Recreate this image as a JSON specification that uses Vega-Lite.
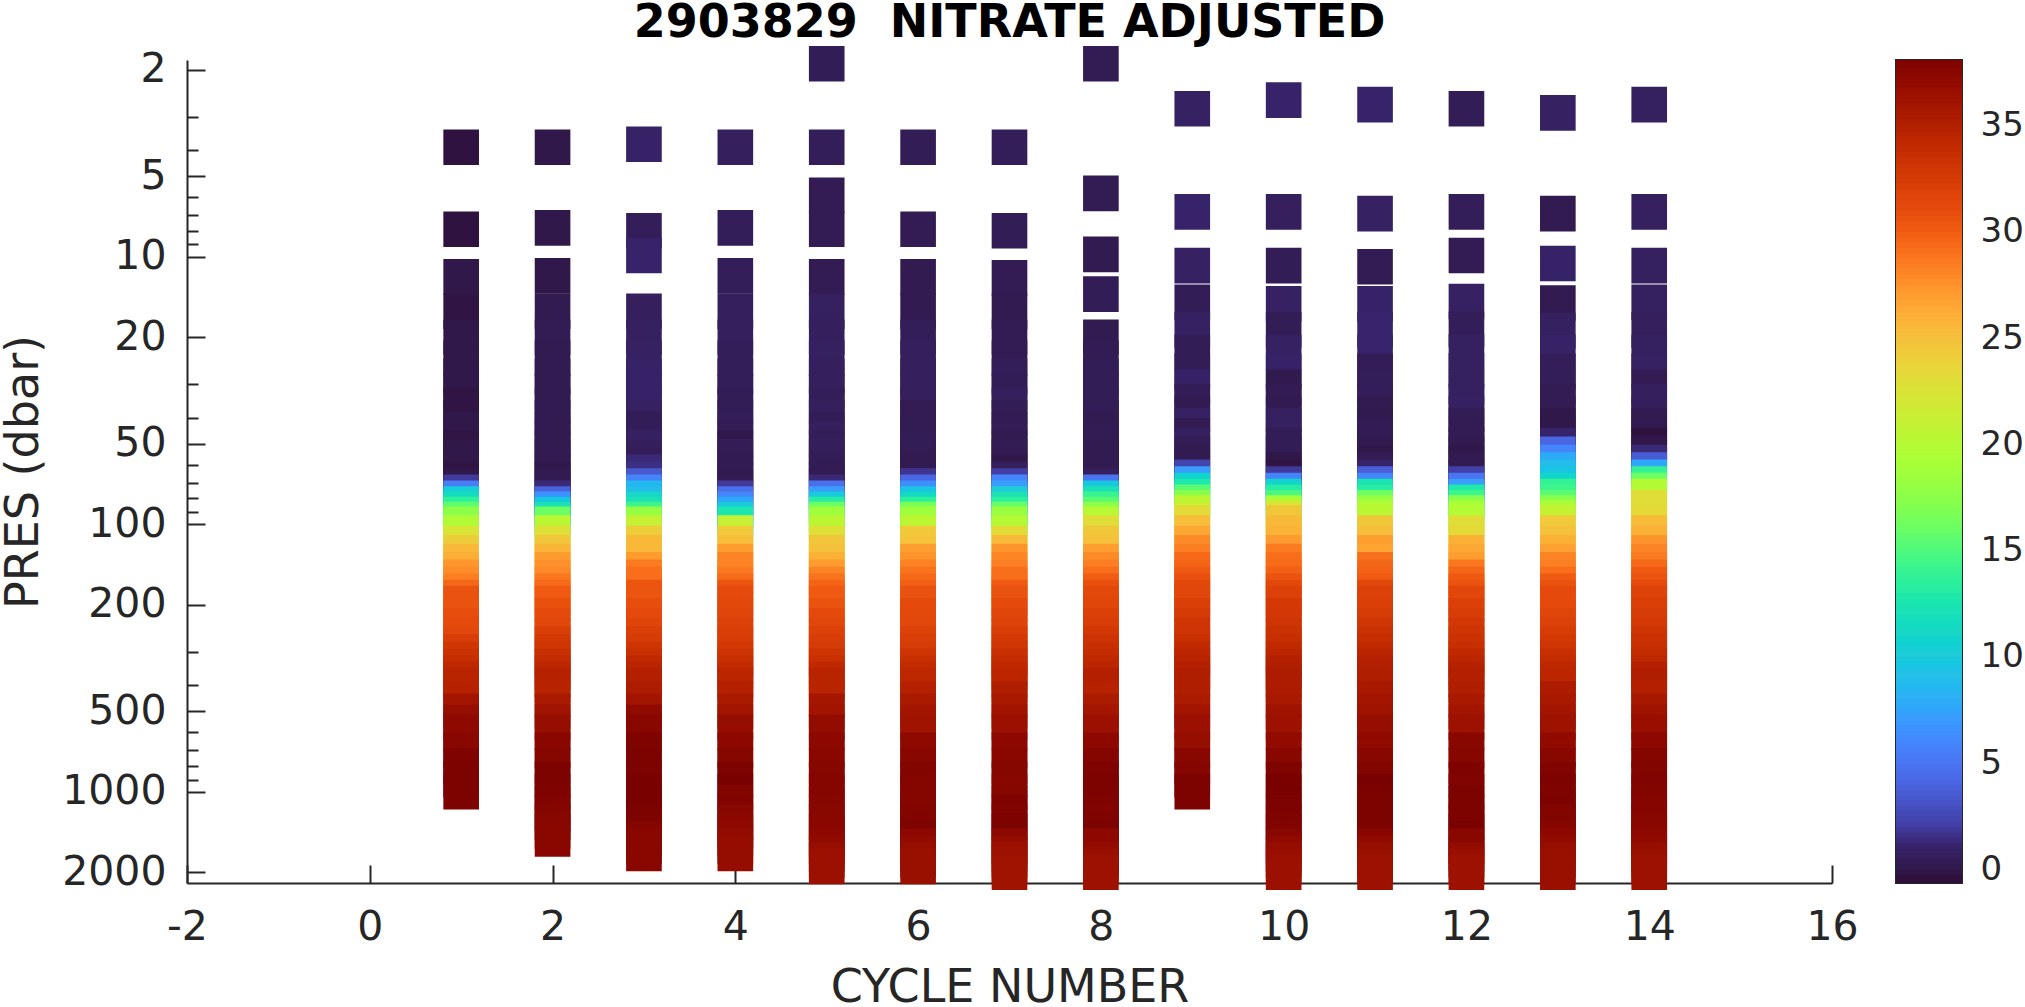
{
"$schema":"https://vega.github.io/schema/vega-lite/v6.json",
"description":"Nitrate adjusted section by cycle number and pressure",
"autosize":{"type":"pad"},
"padding":{"left":0,"top":0,"right":10,"bottom":2},
"background":"white",
"bounds":"flush",
"spacing":64,
"config":{"font":"DejaVu Sans","axis":{"grid":false,"domainColor":"#262626","tickColor":"#262626","labelColor":"#262626","titleColor":"#262626","labelFont":"DejaVu Sans","titleFont":"DejaVu Sans","labelFontSize":41,"titleFontSize":46,"titleFontWeight":"normal","domainWidth":2,"tickWidth":2,"labelFlush":false,"labelOverlap":false}},
"hconcat":[
{"width":1645,"height":823,
"view":{"stroke":null},
"title":{"text":"2903829\u00a0\u00a0NITRATE ADJUSTED","font":"DejaVu Sans","fontSize":46,"fontWeight":"bold","color":"black","anchor":"middle","offset":-1.5},
"data":{"values":[
{"cycle":1,"pres":3.9,"nitrate":-0.4},{"cycle":1,"pres":7.9,"nitrate":-0.4},{"cycle":1,"pres":11.9,"nitrate":-0.1},{"cycle":1,"pres":16,"nitrate":-0.3},{"cycle":1,"pres":20,"nitrate":-0.1},{"cycle":1,"pres":24,"nitrate":-0.1},{"cycle":1,"pres":28,"nitrate":-0.1},{"cycle":1,"pres":32,"nitrate":-0.1},{"cycle":1,"pres":36,"nitrate":-0.3},{"cycle":1,"pres":40,"nitrate":-0.3},{"cycle":1,"pres":44,"nitrate":-0.1},{"cycle":1,"pres":48,"nitrate":-0.1},{"cycle":1,"pres":52,"nitrate":-0.3},{"cycle":1,"pres":56,"nitrate":-0.1},{"cycle":1,"pres":60,"nitrate":-0.1},{"cycle":1,"pres":64,"nitrate":-0.1},{"cycle":1,"pres":68,"nitrate":-0.3},{"cycle":1,"pres":72,"nitrate":-0.1},{"cycle":1,"pres":76,"nitrate":1.8},{"cycle":1,"pres":80,"nitrate":5.3},{"cycle":1,"pres":84,"nitrate":10.2},{"cycle":1,"pres":88,"nitrate":11.5},{"cycle":1,"pres":92,"nitrate":13.6},{"cycle":1,"pres":96,"nitrate":15.5},{"cycle":1,"pres":100,"nitrate":17.5},{"cycle":1,"pres":108,"nitrate":19.5},{"cycle":1,"pres":118,"nitrate":22.3},{"cycle":1,"pres":128,"nitrate":24},{"cycle":1,"pres":138,"nitrate":25.3},{"cycle":1,"pres":148,"nitrate":26},{"cycle":1,"pres":158,"nitrate":27.2},{"cycle":1,"pres":168,"nitrate":27.6},{"cycle":1,"pres":178,"nitrate":28.3},{"cycle":1,"pres":188,"nitrate":29.3},{"cycle":1,"pres":198,"nitrate":30.5},{"cycle":1,"pres":220,"nitrate":30.5},{"cycle":1,"pres":240,"nitrate":30.8},{"cycle":1,"pres":260,"nitrate":31},{"cycle":1,"pres":280,"nitrate":31.3},{"cycle":1,"pres":300,"nitrate":32.1},{"cycle":1,"pres":320,"nitrate":32.8},{"cycle":1,"pres":340,"nitrate":33.2},{"cycle":1,"pres":360,"nitrate":33.6},{"cycle":1,"pres":380,"nitrate":34.1},{"cycle":1,"pres":400,"nitrate":34.5},{"cycle":1,"pres":450,"nitrate":34.6},{"cycle":1,"pres":500,"nitrate":35.8},{"cycle":1,"pres":550,"nitrate":36.6},{"cycle":1,"pres":600,"nitrate":37.1},{"cycle":1,"pres":700,"nitrate":37.4},{"cycle":1,"pres":800,"nitrate":37.9},{"cycle":1,"pres":900,"nitrate":38},{"cycle":1,"pres":1000,"nitrate":38},
{"cycle":2,"pres":3.9,"nitrate":-0.1},{"cycle":2,"pres":7.8,"nitrate":-0.1},{"cycle":2,"pres":11.8,"nitrate":-0.1},{"cycle":2,"pres":16,"nitrate":0.1},{"cycle":2,"pres":20,"nitrate":0.2},{"cycle":2,"pres":24,"nitrate":0.1},{"cycle":2,"pres":28,"nitrate":0.1},{"cycle":2,"pres":32,"nitrate":0.1},{"cycle":2,"pres":36,"nitrate":0.1},{"cycle":2,"pres":40,"nitrate":0.1},{"cycle":2,"pres":44,"nitrate":0.1},{"cycle":2,"pres":48,"nitrate":0.1},{"cycle":2,"pres":52,"nitrate":0.1},{"cycle":2,"pres":56,"nitrate":0.1},{"cycle":2,"pres":60,"nitrate":0.1},{"cycle":2,"pres":64,"nitrate":0.1},{"cycle":2,"pres":68,"nitrate":-0.1},{"cycle":2,"pres":72,"nitrate":0.1},{"cycle":2,"pres":76,"nitrate":0.1},{"cycle":2,"pres":80,"nitrate":1.2},{"cycle":2,"pres":84,"nitrate":3.8},{"cycle":2,"pres":88,"nitrate":6.5},{"cycle":2,"pres":92,"nitrate":9.5},{"cycle":2,"pres":96,"nitrate":12},{"cycle":2,"pres":100,"nitrate":16},{"cycle":2,"pres":108,"nitrate":20.3},{"cycle":2,"pres":118,"nitrate":22.8},{"cycle":2,"pres":128,"nitrate":24.5},{"cycle":2,"pres":138,"nitrate":25.6},{"cycle":2,"pres":148,"nitrate":26.9},{"cycle":2,"pres":158,"nitrate":27.4},{"cycle":2,"pres":168,"nitrate":27.8},{"cycle":2,"pres":178,"nitrate":28.6},{"cycle":2,"pres":188,"nitrate":29.2},{"cycle":2,"pres":198,"nitrate":30},{"cycle":2,"pres":220,"nitrate":30.6},{"cycle":2,"pres":240,"nitrate":31},{"cycle":2,"pres":260,"nitrate":31.3},{"cycle":2,"pres":280,"nitrate":32},{"cycle":2,"pres":300,"nitrate":32.6},{"cycle":2,"pres":320,"nitrate":33},{"cycle":2,"pres":340,"nitrate":33.4},{"cycle":2,"pres":360,"nitrate":33.8},{"cycle":2,"pres":380,"nitrate":34.2},{"cycle":2,"pres":400,"nitrate":34.6},{"cycle":2,"pres":450,"nitrate":34.5},{"cycle":2,"pres":500,"nitrate":35.4},{"cycle":2,"pres":550,"nitrate":36},{"cycle":2,"pres":600,"nitrate":36.6},{"cycle":2,"pres":700,"nitrate":37.3},{"cycle":2,"pres":800,"nitrate":37.5},{"cycle":2,"pres":900,"nitrate":38},{"cycle":2,"pres":1000,"nitrate":38},{"cycle":2,"pres":1100,"nitrate":37.9},{"cycle":2,"pres":1200,"nitrate":37.8},{"cycle":2,"pres":1300,"nitrate":37.6},{"cycle":2,"pres":1400,"nitrate":37.4},{"cycle":2,"pres":1500,"nitrate":37.3},
{"cycle":3,"pres":3.8,"nitrate":0.8},{"cycle":3,"pres":8,"nitrate":0.4},{"cycle":3,"pres":9.9,"nitrate":0.9},{"cycle":3,"pres":16,"nitrate":0.5},{"cycle":3,"pres":20,"nitrate":0.6},{"cycle":3,"pres":24,"nitrate":0.7},{"cycle":3,"pres":28,"nitrate":0.8},{"cycle":3,"pres":32,"nitrate":0.8},{"cycle":3,"pres":36,"nitrate":0.8},{"cycle":3,"pres":40,"nitrate":0.7},{"cycle":3,"pres":44,"nitrate":0.3},{"cycle":3,"pres":48,"nitrate":0.4},{"cycle":3,"pres":52,"nitrate":0.7},{"cycle":3,"pres":56,"nitrate":0.5},{"cycle":3,"pres":60,"nitrate":0.4},{"cycle":3,"pres":64,"nitrate":1.2},{"cycle":3,"pres":68,"nitrate":1.4},{"cycle":3,"pres":72,"nitrate":3.3},{"cycle":3,"pres":76,"nitrate":5.6},{"cycle":3,"pres":80,"nitrate":8.5},{"cycle":3,"pres":84,"nitrate":8.8},{"cycle":3,"pres":88,"nitrate":11},{"cycle":3,"pres":92,"nitrate":12},{"cycle":3,"pres":96,"nitrate":14.2},{"cycle":3,"pres":100,"nitrate":18},{"cycle":3,"pres":108,"nitrate":21},{"cycle":3,"pres":118,"nitrate":24},{"cycle":3,"pres":128,"nitrate":25.4},{"cycle":3,"pres":138,"nitrate":25.4},{"cycle":3,"pres":148,"nitrate":26.9},{"cycle":3,"pres":158,"nitrate":28.4},{"cycle":3,"pres":168,"nitrate":29},{"cycle":3,"pres":178,"nitrate":29},{"cycle":3,"pres":188,"nitrate":30.3},{"cycle":3,"pres":198,"nitrate":30.3},{"cycle":3,"pres":220,"nitrate":30.8},{"cycle":3,"pres":240,"nitrate":31},{"cycle":3,"pres":260,"nitrate":31.5},{"cycle":3,"pres":280,"nitrate":32},{"cycle":3,"pres":300,"nitrate":32.3},{"cycle":3,"pres":320,"nitrate":32.9},{"cycle":3,"pres":340,"nitrate":33.4},{"cycle":3,"pres":360,"nitrate":34},{"cycle":3,"pres":380,"nitrate":34.4},{"cycle":3,"pres":400,"nitrate":34.8},{"cycle":3,"pres":450,"nitrate":35.2},{"cycle":3,"pres":500,"nitrate":35.8},{"cycle":3,"pres":550,"nitrate":37},{"cycle":3,"pres":600,"nitrate":37.3},{"cycle":3,"pres":700,"nitrate":37.9},{"cycle":3,"pres":800,"nitrate":38},{"cycle":3,"pres":900,"nitrate":38},{"cycle":3,"pres":1000,"nitrate":38.1},{"cycle":3,"pres":1100,"nitrate":38.1},{"cycle":3,"pres":1200,"nitrate":38.1},{"cycle":3,"pres":1300,"nitrate":38},{"cycle":3,"pres":1400,"nitrate":38},{"cycle":3,"pres":1500,"nitrate":37.6},{"cycle":3,"pres":1600,"nitrate":37.3},{"cycle":3,"pres":1700,"nitrate":37.3},
{"cycle":4,"pres":3.9,"nitrate":0.5},{"cycle":4,"pres":7.8,"nitrate":0.4},{"cycle":4,"pres":11.8,"nitrate":0.4},{"cycle":4,"pres":16,"nitrate":0.5},{"cycle":4,"pres":20,"nitrate":0.5},{"cycle":4,"pres":24,"nitrate":0.4},{"cycle":4,"pres":28,"nitrate":0.4},{"cycle":4,"pres":32,"nitrate":0.4},{"cycle":4,"pres":36,"nitrate":0.3},{"cycle":4,"pres":40,"nitrate":0.3},{"cycle":4,"pres":44,"nitrate":0.4},{"cycle":4,"pres":48,"nitrate":0.3},{"cycle":4,"pres":52,"nitrate":-0.1},{"cycle":4,"pres":56,"nitrate":0.3},{"cycle":4,"pres":60,"nitrate":0.2},{"cycle":4,"pres":64,"nitrate":0.1},{"cycle":4,"pres":68,"nitrate":0.2},{"cycle":4,"pres":72,"nitrate":0},{"cycle":4,"pres":76,"nitrate":0.2},{"cycle":4,"pres":80,"nitrate":1.8},{"cycle":4,"pres":84,"nitrate":4.5},{"cycle":4,"pres":88,"nitrate":5.8},{"cycle":4,"pres":92,"nitrate":7.5},{"cycle":4,"pres":96,"nitrate":9.8},{"cycle":4,"pres":100,"nitrate":12.5},{"cycle":4,"pres":108,"nitrate":21},{"cycle":4,"pres":118,"nitrate":24.2},{"cycle":4,"pres":128,"nitrate":25},{"cycle":4,"pres":138,"nitrate":26.9},{"cycle":4,"pres":148,"nitrate":28},{"cycle":4,"pres":158,"nitrate":28},{"cycle":4,"pres":168,"nitrate":28.5},{"cycle":4,"pres":178,"nitrate":29.2},{"cycle":4,"pres":188,"nitrate":30.3},{"cycle":4,"pres":198,"nitrate":31},{"cycle":4,"pres":220,"nitrate":31.2},{"cycle":4,"pres":240,"nitrate":31.5},{"cycle":4,"pres":260,"nitrate":31.8},{"cycle":4,"pres":280,"nitrate":32},{"cycle":4,"pres":300,"nitrate":32.2},{"cycle":4,"pres":320,"nitrate":32.7},{"cycle":4,"pres":340,"nitrate":33},{"cycle":4,"pres":360,"nitrate":33.4},{"cycle":4,"pres":380,"nitrate":33.8},{"cycle":4,"pres":400,"nitrate":34.3},{"cycle":4,"pres":450,"nitrate":34.7},{"cycle":4,"pres":500,"nitrate":35.4},{"cycle":4,"pres":550,"nitrate":35.9},{"cycle":4,"pres":600,"nitrate":36.6},{"cycle":4,"pres":700,"nitrate":37.2},{"cycle":4,"pres":800,"nitrate":37.5},{"cycle":4,"pres":900,"nitrate":38},{"cycle":4,"pres":1000,"nitrate":38.1},{"cycle":4,"pres":1100,"nitrate":37.7},{"cycle":4,"pres":1200,"nitrate":37.8},{"cycle":4,"pres":1300,"nitrate":37.4},{"cycle":4,"pres":1400,"nitrate":37.2},{"cycle":4,"pres":1500,"nitrate":37.1},{"cycle":4,"pres":1600,"nitrate":36.8},{"cycle":4,"pres":1700,"nitrate":36.7},
{"cycle":5,"pres":1.9,"nitrate":0.3},{"cycle":5,"pres":3.9,"nitrate":0.4},{"cycle":5,"pres":5.9,"nitrate":0.2},{"cycle":5,"pres":7.9,"nitrate":0.2},{"cycle":5,"pres":11.9,"nitrate":0.2},{"cycle":5,"pres":16,"nitrate":0.6},{"cycle":5,"pres":20,"nitrate":0.5},{"cycle":5,"pres":24,"nitrate":0.6},{"cycle":5,"pres":28,"nitrate":0.5},{"cycle":5,"pres":32,"nitrate":0.5},{"cycle":5,"pres":36,"nitrate":0.4},{"cycle":5,"pres":40,"nitrate":0.5},{"cycle":5,"pres":44,"nitrate":0.3},{"cycle":5,"pres":48,"nitrate":0.5},{"cycle":5,"pres":52,"nitrate":0.4},{"cycle":5,"pres":56,"nitrate":0.5},{"cycle":5,"pres":60,"nitrate":0.4},{"cycle":5,"pres":64,"nitrate":0.3},{"cycle":5,"pres":68,"nitrate":0.2},{"cycle":5,"pres":72,"nitrate":0.2},{"cycle":5,"pres":76,"nitrate":1.2},{"cycle":5,"pres":80,"nitrate":4.5},{"cycle":5,"pres":84,"nitrate":7},{"cycle":5,"pres":88,"nitrate":9.8},{"cycle":5,"pres":92,"nitrate":13},{"cycle":5,"pres":96,"nitrate":16},{"cycle":5,"pres":100,"nitrate":18.5},{"cycle":5,"pres":108,"nitrate":20.3},{"cycle":5,"pres":118,"nitrate":22.8},{"cycle":5,"pres":128,"nitrate":24.5},{"cycle":5,"pres":138,"nitrate":24.8},{"cycle":5,"pres":148,"nitrate":25.8},{"cycle":5,"pres":158,"nitrate":26.9},{"cycle":5,"pres":168,"nitrate":28},{"cycle":5,"pres":178,"nitrate":28.8},{"cycle":5,"pres":188,"nitrate":29.5},{"cycle":5,"pres":198,"nitrate":30},{"cycle":5,"pres":220,"nitrate":30.5},{"cycle":5,"pres":240,"nitrate":31},{"cycle":5,"pres":260,"nitrate":31.4},{"cycle":5,"pres":280,"nitrate":31.8},{"cycle":5,"pres":300,"nitrate":32.1},{"cycle":5,"pres":320,"nitrate":32.4},{"cycle":5,"pres":340,"nitrate":33},{"cycle":5,"pres":360,"nitrate":33.4},{"cycle":5,"pres":380,"nitrate":34},{"cycle":5,"pres":400,"nitrate":34.5},{"cycle":5,"pres":450,"nitrate":34.5},{"cycle":5,"pres":500,"nitrate":35.7},{"cycle":5,"pres":550,"nitrate":35.9},{"cycle":5,"pres":600,"nitrate":36.8},{"cycle":5,"pres":700,"nitrate":37.2},{"cycle":5,"pres":800,"nitrate":37.3},{"cycle":5,"pres":900,"nitrate":37.5},{"cycle":5,"pres":1000,"nitrate":37.6},{"cycle":5,"pres":1100,"nitrate":37.6},{"cycle":5,"pres":1200,"nitrate":37.5},{"cycle":5,"pres":1300,"nitrate":37.4},{"cycle":5,"pres":1400,"nitrate":37.3},{"cycle":5,"pres":1500,"nitrate":37.3},{"cycle":5,"pres":1600,"nitrate":37.2},{"cycle":5,"pres":1700,"nitrate":36.9},{"cycle":5,"pres":1800,"nitrate":36.6},{"cycle":5,"pres":1900,"nitrate":36.3},
{"cycle":6,"pres":3.9,"nitrate":0.3},{"cycle":6,"pres":7.9,"nitrate":0.2},{"cycle":6,"pres":11.9,"nitrate":0.1},{"cycle":6,"pres":16,"nitrate":0.1},{"cycle":6,"pres":20,"nitrate":0.4},{"cycle":6,"pres":24,"nitrate":0.5},{"cycle":6,"pres":28,"nitrate":0.5},{"cycle":6,"pres":32,"nitrate":0.5},{"cycle":6,"pres":36,"nitrate":0.5},{"cycle":6,"pres":40,"nitrate":0.2},{"cycle":6,"pres":44,"nitrate":0.2},{"cycle":6,"pres":48,"nitrate":0.2},{"cycle":6,"pres":52,"nitrate":0.3},{"cycle":6,"pres":56,"nitrate":0.3},{"cycle":6,"pres":60,"nitrate":0.2},{"cycle":6,"pres":64,"nitrate":0.1},{"cycle":6,"pres":68,"nitrate":0.1},{"cycle":6,"pres":72,"nitrate":1.6},{"cycle":6,"pres":76,"nitrate":4},{"cycle":6,"pres":80,"nitrate":6.3},{"cycle":6,"pres":84,"nitrate":9.3},{"cycle":6,"pres":88,"nitrate":11.2},{"cycle":6,"pres":92,"nitrate":13.5},{"cycle":6,"pres":96,"nitrate":16.6},{"cycle":6,"pres":100,"nitrate":18.4},{"cycle":6,"pres":108,"nitrate":20.3},{"cycle":6,"pres":118,"nitrate":24.3},{"cycle":6,"pres":128,"nitrate":24.7},{"cycle":6,"pres":138,"nitrate":26.8},{"cycle":6,"pres":148,"nitrate":27.3},{"cycle":6,"pres":158,"nitrate":28.1},{"cycle":6,"pres":168,"nitrate":28.8},{"cycle":6,"pres":178,"nitrate":29.3},{"cycle":6,"pres":188,"nitrate":29.7},{"cycle":6,"pres":198,"nitrate":30.5},{"cycle":6,"pres":220,"nitrate":31},{"cycle":6,"pres":240,"nitrate":31.1},{"cycle":6,"pres":260,"nitrate":31.3},{"cycle":6,"pres":280,"nitrate":31.7},{"cycle":6,"pres":300,"nitrate":32},{"cycle":6,"pres":320,"nitrate":32.3},{"cycle":6,"pres":340,"nitrate":33},{"cycle":6,"pres":360,"nitrate":33.4},{"cycle":6,"pres":380,"nitrate":33.8},{"cycle":6,"pres":400,"nitrate":34.1},{"cycle":6,"pres":450,"nitrate":34.7},{"cycle":6,"pres":500,"nitrate":35.4},{"cycle":6,"pres":550,"nitrate":35.8},{"cycle":6,"pres":600,"nitrate":36},{"cycle":6,"pres":700,"nitrate":37.1},{"cycle":6,"pres":800,"nitrate":37.4},{"cycle":6,"pres":900,"nitrate":37.7},{"cycle":6,"pres":1000,"nitrate":37.6},{"cycle":6,"pres":1100,"nitrate":37.6},{"cycle":6,"pres":1200,"nitrate":37.6},{"cycle":6,"pres":1300,"nitrate":37.7},{"cycle":6,"pres":1400,"nitrate":37.8},{"cycle":6,"pres":1500,"nitrate":37.9},{"cycle":6,"pres":1600,"nitrate":37.2},{"cycle":6,"pres":1700,"nitrate":36.9},{"cycle":6,"pres":1800,"nitrate":36.6},{"cycle":6,"pres":1900,"nitrate":36.4},
{"cycle":7,"pres":3.9,"nitrate":0.4},{"cycle":7,"pres":8,"nitrate":0.3},{"cycle":7,"pres":12,"nitrate":0.2},{"cycle":7,"pres":16,"nitrate":0.1},{"cycle":7,"pres":20,"nitrate":0.2},{"cycle":7,"pres":24,"nitrate":0.2},{"cycle":7,"pres":28,"nitrate":0.4},{"cycle":7,"pres":32,"nitrate":0.3},{"cycle":7,"pres":36,"nitrate":0.5},{"cycle":7,"pres":40,"nitrate":0.3},{"cycle":7,"pres":44,"nitrate":0.2},{"cycle":7,"pres":48,"nitrate":0.3},{"cycle":7,"pres":52,"nitrate":0.1},{"cycle":7,"pres":56,"nitrate":0.2},{"cycle":7,"pres":60,"nitrate":0.2},{"cycle":7,"pres":64,"nitrate":-0.1},{"cycle":7,"pres":68,"nitrate":0.5},{"cycle":7,"pres":72,"nitrate":2},{"cycle":7,"pres":76,"nitrate":5.8},{"cycle":7,"pres":80,"nitrate":7},{"cycle":7,"pres":84,"nitrate":10},{"cycle":7,"pres":88,"nitrate":12},{"cycle":7,"pres":92,"nitrate":13.5},{"cycle":7,"pres":96,"nitrate":15.8},{"cycle":7,"pres":100,"nitrate":18.2},{"cycle":7,"pres":108,"nitrate":19.8},{"cycle":7,"pres":118,"nitrate":23.2},{"cycle":7,"pres":128,"nitrate":25.3},{"cycle":7,"pres":138,"nitrate":27.3},{"cycle":7,"pres":148,"nitrate":27.9},{"cycle":7,"pres":158,"nitrate":28.2},{"cycle":7,"pres":168,"nitrate":29},{"cycle":7,"pres":178,"nitrate":29},{"cycle":7,"pres":188,"nitrate":30},{"cycle":7,"pres":198,"nitrate":30.5},{"cycle":7,"pres":220,"nitrate":31},{"cycle":7,"pres":240,"nitrate":31.5},{"cycle":7,"pres":260,"nitrate":31.7},{"cycle":7,"pres":280,"nitrate":32.1},{"cycle":7,"pres":300,"nitrate":32.6},{"cycle":7,"pres":320,"nitrate":33},{"cycle":7,"pres":340,"nitrate":33.4},{"cycle":7,"pres":360,"nitrate":33.7},{"cycle":7,"pres":380,"nitrate":34},{"cycle":7,"pres":400,"nitrate":34.3},{"cycle":7,"pres":450,"nitrate":35},{"cycle":7,"pres":500,"nitrate":35.5},{"cycle":7,"pres":550,"nitrate":35.9},{"cycle":7,"pres":600,"nitrate":36.3},{"cycle":7,"pres":700,"nitrate":37.2},{"cycle":7,"pres":800,"nitrate":37.3},{"cycle":7,"pres":900,"nitrate":37.5},{"cycle":7,"pres":1000,"nitrate":37.4},{"cycle":7,"pres":1100,"nitrate":37.5},{"cycle":7,"pres":1200,"nitrate":37.9},{"cycle":7,"pres":1300,"nitrate":37.8},{"cycle":7,"pres":1400,"nitrate":38},{"cycle":7,"pres":1500,"nitrate":38},{"cycle":7,"pres":1600,"nitrate":37.2},{"cycle":7,"pres":1700,"nitrate":36.7},{"cycle":7,"pres":1800,"nitrate":36.3},{"cycle":7,"pres":1900,"nitrate":36.2},{"cycle":7,"pres":2000,"nitrate":36},
{"cycle":8,"pres":1.9,"nitrate":0.2},{"cycle":8,"pres":5.8,"nitrate":0.2},{"cycle":8,"pres":9.8,"nitrate":0.1},{"cycle":8,"pres":13.8,"nitrate":0.3},{"cycle":8,"pres":20,"nitrate":0.1},{"cycle":8,"pres":24,"nitrate":0.2},{"cycle":8,"pres":28,"nitrate":0.3},{"cycle":8,"pres":32,"nitrate":0.3},{"cycle":8,"pres":36,"nitrate":0.3},{"cycle":8,"pres":40,"nitrate":0.3},{"cycle":8,"pres":44,"nitrate":0.1},{"cycle":8,"pres":48,"nitrate":0.2},{"cycle":8,"pres":52,"nitrate":0.2},{"cycle":8,"pres":56,"nitrate":0.1},{"cycle":8,"pres":60,"nitrate":0.1},{"cycle":8,"pres":64,"nitrate":0.1},{"cycle":8,"pres":68,"nitrate":0.1},{"cycle":8,"pres":72,"nitrate":0.5},{"cycle":8,"pres":76,"nitrate":4.8},{"cycle":8,"pres":80,"nitrate":9.7},{"cycle":8,"pres":84,"nitrate":12},{"cycle":8,"pres":88,"nitrate":14},{"cycle":8,"pres":92,"nitrate":15.3},{"cycle":8,"pres":96,"nitrate":17.5},{"cycle":8,"pres":100,"nitrate":20},{"cycle":8,"pres":108,"nitrate":23},{"cycle":8,"pres":118,"nitrate":24.4},{"cycle":8,"pres":128,"nitrate":24.8},{"cycle":8,"pres":138,"nitrate":26.8},{"cycle":8,"pres":148,"nitrate":27.7},{"cycle":8,"pres":158,"nitrate":28.3},{"cycle":8,"pres":168,"nitrate":29},{"cycle":8,"pres":178,"nitrate":29.8},{"cycle":8,"pres":188,"nitrate":30.6},{"cycle":8,"pres":198,"nitrate":31.2},{"cycle":8,"pres":220,"nitrate":31.5},{"cycle":8,"pres":240,"nitrate":31.9},{"cycle":8,"pres":260,"nitrate":32.2},{"cycle":8,"pres":280,"nitrate":32.7},{"cycle":8,"pres":300,"nitrate":33.1},{"cycle":8,"pres":320,"nitrate":33.4},{"cycle":8,"pres":340,"nitrate":33.7},{"cycle":8,"pres":360,"nitrate":34},{"cycle":8,"pres":380,"nitrate":34.3},{"cycle":8,"pres":400,"nitrate":34.8},{"cycle":8,"pres":450,"nitrate":34.6},{"cycle":8,"pres":500,"nitrate":35.3},{"cycle":8,"pres":550,"nitrate":35.7},{"cycle":8,"pres":600,"nitrate":36.3},{"cycle":8,"pres":700,"nitrate":37.2},{"cycle":8,"pres":800,"nitrate":37.6},{"cycle":8,"pres":900,"nitrate":37.9},{"cycle":8,"pres":1000,"nitrate":38},{"cycle":8,"pres":1100,"nitrate":38},{"cycle":8,"pres":1200,"nitrate":37.9},{"cycle":8,"pres":1300,"nitrate":37.8},{"cycle":8,"pres":1400,"nitrate":37.9},{"cycle":8,"pres":1500,"nitrate":38},{"cycle":8,"pres":1600,"nitrate":37.2},{"cycle":8,"pres":1700,"nitrate":37.2},{"cycle":8,"pres":1800,"nitrate":36.8},{"cycle":8,"pres":1900,"nitrate":36.5},{"cycle":8,"pres":2000,"nitrate":36.2},
{"cycle":9,"pres":2.8,"nitrate":0.7},{"cycle":9,"pres":6.8,"nitrate":0.9},{"cycle":9,"pres":10.8,"nitrate":0.7},{"cycle":9,"pres":14.8,"nitrate":0.3},{"cycle":9,"pres":18.8,"nitrate":0.7},{"cycle":9,"pres":22.8,"nitrate":0.3},{"cycle":9,"pres":26.8,"nitrate":0.3},{"cycle":9,"pres":30.8,"nitrate":0.8},{"cycle":9,"pres":34.8,"nitrate":0.3},{"cycle":9,"pres":38.8,"nitrate":0.1},{"cycle":9,"pres":42.8,"nitrate":0.7},{"cycle":9,"pres":46.8,"nitrate":0.1},{"cycle":9,"pres":50.8,"nitrate":0.6},{"cycle":9,"pres":54.8,"nitrate":0.3},{"cycle":9,"pres":58.8,"nitrate":0.1},{"cycle":9,"pres":62.8,"nitrate":0.1},{"cycle":9,"pres":66.8,"nitrate":2.2},{"cycle":9,"pres":70.8,"nitrate":7},{"cycle":9,"pres":74.8,"nitrate":10.6},{"cycle":9,"pres":78.8,"nitrate":12.7},{"cycle":9,"pres":82.8,"nitrate":15.3},{"cycle":9,"pres":86.8,"nitrate":17.2},{"cycle":9,"pres":90.8,"nitrate":20.5},{"cycle":9,"pres":94.8,"nitrate":20.8},{"cycle":9,"pres":98.8,"nitrate":23.2},{"cycle":9,"pres":108,"nitrate":25},{"cycle":9,"pres":118,"nitrate":26.4},{"cycle":9,"pres":128,"nitrate":27.7},{"cycle":9,"pres":138,"nitrate":28.3},{"cycle":9,"pres":148,"nitrate":29.2},{"cycle":9,"pres":158,"nitrate":29.5},{"cycle":9,"pres":168,"nitrate":30},{"cycle":9,"pres":178,"nitrate":30.6},{"cycle":9,"pres":188,"nitrate":31.2},{"cycle":9,"pres":198,"nitrate":31.4},{"cycle":9,"pres":220,"nitrate":32},{"cycle":9,"pres":240,"nitrate":32.4},{"cycle":9,"pres":260,"nitrate":33},{"cycle":9,"pres":280,"nitrate":33},{"cycle":9,"pres":300,"nitrate":33.4},{"cycle":9,"pres":320,"nitrate":33.9},{"cycle":9,"pres":340,"nitrate":34.3},{"cycle":9,"pres":360,"nitrate":34.5},{"cycle":9,"pres":380,"nitrate":34.7},{"cycle":9,"pres":400,"nitrate":35},{"cycle":9,"pres":450,"nitrate":35},{"cycle":9,"pres":500,"nitrate":35.3},{"cycle":9,"pres":550,"nitrate":35.9},{"cycle":9,"pres":600,"nitrate":36.3},{"cycle":9,"pres":700,"nitrate":36.6},{"cycle":9,"pres":800,"nitrate":37.3},{"cycle":9,"pres":900,"nitrate":37.6},{"cycle":9,"pres":1000,"nitrate":38},
{"cycle":10,"pres":2.6,"nitrate":0.9},{"cycle":10,"pres":6.8,"nitrate":0.5},{"cycle":10,"pres":10.8,"nitrate":0.3},{"cycle":10,"pres":15,"nitrate":0.7},{"cycle":10,"pres":18.8,"nitrate":0.3},{"cycle":10,"pres":22.8,"nitrate":0.7},{"cycle":10,"pres":26.8,"nitrate":0.8},{"cycle":10,"pres":30.8,"nitrate":0},{"cycle":10,"pres":34.8,"nitrate":0.2},{"cycle":10,"pres":38.8,"nitrate":0.1},{"cycle":10,"pres":42.8,"nitrate":0.6},{"cycle":10,"pres":46.8,"nitrate":0.6},{"cycle":10,"pres":50.8,"nitrate":0.3},{"cycle":10,"pres":54.8,"nitrate":0.3},{"cycle":10,"pres":58.8,"nitrate":0.3},{"cycle":10,"pres":62.8,"nitrate":-0.1},{"cycle":10,"pres":66.8,"nitrate":-0.3},{"cycle":10,"pres":70.8,"nitrate":1.8},{"cycle":10,"pres":74.8,"nitrate":5.6},{"cycle":10,"pres":78.8,"nitrate":10.8},{"cycle":10,"pres":82.8,"nitrate":13},{"cycle":10,"pres":86.8,"nitrate":14.7},{"cycle":10,"pres":90.8,"nitrate":19},{"cycle":10,"pres":94.8,"nitrate":22},{"cycle":10,"pres":98.8,"nitrate":24.4},{"cycle":10,"pres":108,"nitrate":25.3},{"cycle":10,"pres":118,"nitrate":25.7},{"cycle":10,"pres":128,"nitrate":27},{"cycle":10,"pres":138,"nitrate":28.4},{"cycle":10,"pres":148,"nitrate":29},{"cycle":10,"pres":158,"nitrate":29.2},{"cycle":10,"pres":168,"nitrate":29.7},{"cycle":10,"pres":178,"nitrate":30.4},{"cycle":10,"pres":188,"nitrate":31.2},{"cycle":10,"pres":198,"nitrate":31.8},{"cycle":10,"pres":220,"nitrate":32.6},{"cycle":10,"pres":240,"nitrate":32.7},{"cycle":10,"pres":260,"nitrate":33},{"cycle":10,"pres":280,"nitrate":33.2},{"cycle":10,"pres":300,"nitrate":33.5},{"cycle":10,"pres":320,"nitrate":33.9},{"cycle":10,"pres":340,"nitrate":34.3},{"cycle":10,"pres":360,"nitrate":34.7},{"cycle":10,"pres":380,"nitrate":35},{"cycle":10,"pres":400,"nitrate":35.2},{"cycle":10,"pres":450,"nitrate":35.2},{"cycle":10,"pres":500,"nitrate":35.5},{"cycle":10,"pres":550,"nitrate":36},{"cycle":10,"pres":600,"nitrate":36.2},{"cycle":10,"pres":700,"nitrate":36.9},{"cycle":10,"pres":800,"nitrate":37.4},{"cycle":10,"pres":900,"nitrate":37.9},{"cycle":10,"pres":1000,"nitrate":38.1},{"cycle":10,"pres":1100,"nitrate":38.1},{"cycle":10,"pres":1200,"nitrate":38},{"cycle":10,"pres":1300,"nitrate":38},{"cycle":10,"pres":1400,"nitrate":37.9},{"cycle":10,"pres":1500,"nitrate":37.8},{"cycle":10,"pres":1600,"nitrate":37.4},{"cycle":10,"pres":1700,"nitrate":37},{"cycle":10,"pres":1800,"nitrate":36.6},{"cycle":10,"pres":1900,"nitrate":36.5},{"cycle":10,"pres":2000,"nitrate":36.3},
{"cycle":11,"pres":2.7,"nitrate":0.9},{"cycle":11,"pres":6.9,"nitrate":0.7},{"cycle":11,"pres":10.9,"nitrate":0.2},{"cycle":11,"pres":15,"nitrate":0.8},{"cycle":11,"pres":18.8,"nitrate":1},{"cycle":11,"pres":22.8,"nitrate":1},{"cycle":11,"pres":26.8,"nitrate":0.3},{"cycle":11,"pres":30.8,"nitrate":0.4},{"cycle":11,"pres":34.8,"nitrate":0.4},{"cycle":11,"pres":38.8,"nitrate":0.1},{"cycle":11,"pres":42.8,"nitrate":0},{"cycle":11,"pres":46.8,"nitrate":0.2},{"cycle":11,"pres":50.8,"nitrate":0.2},{"cycle":11,"pres":54.8,"nitrate":0.1},{"cycle":11,"pres":58.8,"nitrate":-0.1},{"cycle":11,"pres":62.8,"nitrate":0.2},{"cycle":11,"pres":66.8,"nitrate":0.9},{"cycle":11,"pres":70.8,"nitrate":3.6},{"cycle":11,"pres":74.8,"nitrate":5.8},{"cycle":11,"pres":78.8,"nitrate":12.3},{"cycle":11,"pres":82.8,"nitrate":13},{"cycle":11,"pres":86.8,"nitrate":16},{"cycle":11,"pres":90.8,"nitrate":18},{"cycle":11,"pres":94.8,"nitrate":19.5},{"cycle":11,"pres":98.8,"nitrate":20.2},{"cycle":11,"pres":108,"nitrate":24.4},{"cycle":11,"pres":118,"nitrate":25},{"cycle":11,"pres":128,"nitrate":26.8},{"cycle":11,"pres":138,"nitrate":26.5},{"cycle":11,"pres":148,"nitrate":28.9},{"cycle":11,"pres":158,"nitrate":29.4},{"cycle":11,"pres":168,"nitrate":29.6},{"cycle":11,"pres":178,"nitrate":30},{"cycle":11,"pres":188,"nitrate":31.2},{"cycle":11,"pres":198,"nitrate":31.8},{"cycle":11,"pres":220,"nitrate":32},{"cycle":11,"pres":240,"nitrate":32.3},{"cycle":11,"pres":260,"nitrate":32.8},{"cycle":11,"pres":280,"nitrate":33.2},{"cycle":11,"pres":300,"nitrate":33.5},{"cycle":11,"pres":320,"nitrate":33.9},{"cycle":11,"pres":340,"nitrate":34.4},{"cycle":11,"pres":360,"nitrate":34.7},{"cycle":11,"pres":380,"nitrate":34.8},{"cycle":11,"pres":400,"nitrate":35},{"cycle":11,"pres":450,"nitrate":35.5},{"cycle":11,"pres":500,"nitrate":35.8},{"cycle":11,"pres":550,"nitrate":36},{"cycle":11,"pres":600,"nitrate":36.6},{"cycle":11,"pres":700,"nitrate":37},{"cycle":11,"pres":800,"nitrate":37.4},{"cycle":11,"pres":900,"nitrate":37.7},{"cycle":11,"pres":1000,"nitrate":38.1},{"cycle":11,"pres":1100,"nitrate":38},{"cycle":11,"pres":1200,"nitrate":38},{"cycle":11,"pres":1300,"nitrate":38},{"cycle":11,"pres":1400,"nitrate":38},{"cycle":11,"pres":1500,"nitrate":38},{"cycle":11,"pres":1600,"nitrate":37.3},{"cycle":11,"pres":1700,"nitrate":36.9},{"cycle":11,"pres":1800,"nitrate":36.6},{"cycle":11,"pres":1900,"nitrate":36.4},{"cycle":11,"pres":2000,"nitrate":36.2},
{"cycle":12,"pres":2.8,"nitrate":0.3},{"cycle":12,"pres":6.8,"nitrate":0.4},{"cycle":12,"pres":9.9,"nitrate":0.2},{"cycle":12,"pres":14.7,"nitrate":0.7},{"cycle":12,"pres":18.7,"nitrate":0.4},{"cycle":12,"pres":22.7,"nitrate":0.6},{"cycle":12,"pres":26.7,"nitrate":0.6},{"cycle":12,"pres":30.7,"nitrate":0.6},{"cycle":12,"pres":34.7,"nitrate":0.6},{"cycle":12,"pres":38.7,"nitrate":0.7},{"cycle":12,"pres":42.7,"nitrate":0.3},{"cycle":12,"pres":46.7,"nitrate":0.2},{"cycle":12,"pres":50.7,"nitrate":0.2},{"cycle":12,"pres":54.7,"nitrate":0.1},{"cycle":12,"pres":58.7,"nitrate":-0.1},{"cycle":12,"pres":62.7,"nitrate":0.1},{"cycle":12,"pres":66.8,"nitrate":0.1},{"cycle":12,"pres":70.8,"nitrate":2},{"cycle":12,"pres":74.8,"nitrate":4.8},{"cycle":12,"pres":78.8,"nitrate":7},{"cycle":12,"pres":82.8,"nitrate":12.8},{"cycle":12,"pres":86.8,"nitrate":14.2},{"cycle":12,"pres":90.8,"nitrate":17.2},{"cycle":12,"pres":94.8,"nitrate":19},{"cycle":12,"pres":98.8,"nitrate":19.7},{"cycle":12,"pres":108,"nitrate":23},{"cycle":12,"pres":118,"nitrate":23.2},{"cycle":12,"pres":128,"nitrate":25.8},{"cycle":12,"pres":138,"nitrate":26.3},{"cycle":12,"pres":148,"nitrate":26.8},{"cycle":12,"pres":158,"nitrate":28.6},{"cycle":12,"pres":168,"nitrate":29.4},{"cycle":12,"pres":178,"nitrate":30},{"cycle":12,"pres":188,"nitrate":30.5},{"cycle":12,"pres":198,"nitrate":31.4},{"cycle":12,"pres":220,"nitrate":31.9},{"cycle":12,"pres":240,"nitrate":32.2},{"cycle":12,"pres":260,"nitrate":32.7},{"cycle":12,"pres":280,"nitrate":33},{"cycle":12,"pres":300,"nitrate":33.2},{"cycle":12,"pres":320,"nitrate":33.5},{"cycle":12,"pres":340,"nitrate":34},{"cycle":12,"pres":360,"nitrate":34.3},{"cycle":12,"pres":380,"nitrate":34.6},{"cycle":12,"pres":400,"nitrate":34.8},{"cycle":12,"pres":450,"nitrate":35},{"cycle":12,"pres":500,"nitrate":35.5},{"cycle":12,"pres":550,"nitrate":35.8},{"cycle":12,"pres":600,"nitrate":36.2},{"cycle":12,"pres":700,"nitrate":37.4},{"cycle":12,"pres":800,"nitrate":37.5},{"cycle":12,"pres":900,"nitrate":37.9},{"cycle":12,"pres":1000,"nitrate":37.8},{"cycle":12,"pres":1100,"nitrate":38},{"cycle":12,"pres":1200,"nitrate":38},{"cycle":12,"pres":1300,"nitrate":38},{"cycle":12,"pres":1400,"nitrate":38},{"cycle":12,"pres":1500,"nitrate":38.1},{"cycle":12,"pres":1600,"nitrate":37.4},{"cycle":12,"pres":1700,"nitrate":37.3},{"cycle":12,"pres":1800,"nitrate":36.8},{"cycle":12,"pres":1900,"nitrate":36.5},{"cycle":12,"pres":2000,"nitrate":36.2},
{"cycle":13,"pres":2.9,"nitrate":0.7},{"cycle":13,"pres":6.9,"nitrate":0.1},{"cycle":13,"pres":10.6,"nitrate":0.8},{"cycle":13,"pres":14.9,"nitrate":0.1},{"cycle":13,"pres":18.9,"nitrate":0.6},{"cycle":13,"pres":22.8,"nitrate":0.8},{"cycle":13,"pres":26.8,"nitrate":0.4},{"cycle":13,"pres":30.8,"nitrate":0.4},{"cycle":13,"pres":34.8,"nitrate":0.2},{"cycle":13,"pres":38.8,"nitrate":0.2},{"cycle":13,"pres":42.8,"nitrate":-0.1},{"cycle":13,"pres":46.8,"nitrate":-0.1},{"cycle":13,"pres":50.8,"nitrate":0.9},{"cycle":13,"pres":54.8,"nitrate":4},{"cycle":13,"pres":58.8,"nitrate":5.8},{"cycle":13,"pres":62.8,"nitrate":7.7},{"cycle":13,"pres":66.8,"nitrate":8.8},{"cycle":13,"pres":70.8,"nitrate":9.4},{"cycle":13,"pres":74.8,"nitrate":10.8},{"cycle":13,"pres":78.8,"nitrate":13.8},{"cycle":13,"pres":82.8,"nitrate":14.2},{"cycle":13,"pres":86.8,"nitrate":15.3},{"cycle":13,"pres":90.8,"nitrate":17.2},{"cycle":13,"pres":94.8,"nitrate":19.2},{"cycle":13,"pres":98.8,"nitrate":20.8},{"cycle":13,"pres":108,"nitrate":24.2},{"cycle":13,"pres":118,"nitrate":24.8},{"cycle":13,"pres":128,"nitrate":25.8},{"cycle":13,"pres":138,"nitrate":26.6},{"cycle":13,"pres":148,"nitrate":28},{"cycle":13,"pres":158,"nitrate":28.2},{"cycle":13,"pres":168,"nitrate":29},{"cycle":13,"pres":178,"nitrate":29.9},{"cycle":13,"pres":188,"nitrate":30.5},{"cycle":13,"pres":198,"nitrate":31},{"cycle":13,"pres":220,"nitrate":31},{"cycle":13,"pres":240,"nitrate":31.5},{"cycle":13,"pres":260,"nitrate":31.8},{"cycle":13,"pres":280,"nitrate":32.2},{"cycle":13,"pres":300,"nitrate":32.6},{"cycle":13,"pres":320,"nitrate":33},{"cycle":13,"pres":340,"nitrate":33.4},{"cycle":13,"pres":360,"nitrate":33.7},{"cycle":13,"pres":380,"nitrate":34.1},{"cycle":13,"pres":400,"nitrate":34.3},{"cycle":13,"pres":450,"nitrate":35.2},{"cycle":13,"pres":500,"nitrate":35.5},{"cycle":13,"pres":550,"nitrate":35.8},{"cycle":13,"pres":600,"nitrate":36.1},{"cycle":13,"pres":700,"nitrate":37},{"cycle":13,"pres":800,"nitrate":37.4},{"cycle":13,"pres":900,"nitrate":37.8},{"cycle":13,"pres":1000,"nitrate":38},{"cycle":13,"pres":1100,"nitrate":37.9},{"cycle":13,"pres":1200,"nitrate":38},{"cycle":13,"pres":1300,"nitrate":37.7},{"cycle":13,"pres":1400,"nitrate":37.7},{"cycle":13,"pres":1500,"nitrate":37.5},{"cycle":13,"pres":1600,"nitrate":37.2},{"cycle":13,"pres":1700,"nitrate":36.9},{"cycle":13,"pres":1800,"nitrate":36.6},{"cycle":13,"pres":1900,"nitrate":36.4},{"cycle":13,"pres":2000,"nitrate":36.4},
{"cycle":14,"pres":2.7,"nitrate":0.6},{"cycle":14,"pres":6.8,"nitrate":0.6},{"cycle":14,"pres":10.8,"nitrate":0.6},{"cycle":14,"pres":14.8,"nitrate":0.6},{"cycle":14,"pres":18.8,"nitrate":0.5},{"cycle":14,"pres":22.8,"nitrate":0.6},{"cycle":14,"pres":26.8,"nitrate":0.7},{"cycle":14,"pres":30.8,"nitrate":0.2},{"cycle":14,"pres":34.8,"nitrate":0.5},{"cycle":14,"pres":38.8,"nitrate":0.5},{"cycle":14,"pres":42.8,"nitrate":0.1},{"cycle":14,"pres":46.8,"nitrate":0.1},{"cycle":14,"pres":50.8,"nitrate":-0.4},{"cycle":14,"pres":54.8,"nitrate":-0.1},{"cycle":14,"pres":58.8,"nitrate":1.2},{"cycle":14,"pres":62.8,"nitrate":3.5},{"cycle":14,"pres":66.8,"nitrate":7.5},{"cycle":14,"pres":70.8,"nitrate":13.8},{"cycle":14,"pres":74.8,"nitrate":16},{"cycle":14,"pres":78.8,"nitrate":19.8},{"cycle":14,"pres":82.8,"nitrate":19.8},{"cycle":14,"pres":86.8,"nitrate":23},{"cycle":14,"pres":90.8,"nitrate":23},{"cycle":14,"pres":94.8,"nitrate":23},{"cycle":14,"pres":98.8,"nitrate":23.2},{"cycle":14,"pres":108,"nitrate":25.2},{"cycle":14,"pres":118,"nitrate":25.8},{"cycle":14,"pres":128,"nitrate":27.3},{"cycle":14,"pres":138,"nitrate":28},{"cycle":14,"pres":148,"nitrate":28.4},{"cycle":14,"pres":158,"nitrate":29.3},{"cycle":14,"pres":168,"nitrate":30},{"cycle":14,"pres":178,"nitrate":30.4},{"cycle":14,"pres":188,"nitrate":31},{"cycle":14,"pres":198,"nitrate":31.7},{"cycle":14,"pres":220,"nitrate":32},{"cycle":14,"pres":240,"nitrate":32.3},{"cycle":14,"pres":260,"nitrate":32.6},{"cycle":14,"pres":280,"nitrate":33},{"cycle":14,"pres":300,"nitrate":33.2},{"cycle":14,"pres":320,"nitrate":33.4},{"cycle":14,"pres":340,"nitrate":33.8},{"cycle":14,"pres":360,"nitrate":34.1},{"cycle":14,"pres":380,"nitrate":34.7},{"cycle":14,"pres":400,"nitrate":35},{"cycle":14,"pres":450,"nitrate":34.8},{"cycle":14,"pres":500,"nitrate":35.6},{"cycle":14,"pres":550,"nitrate":36},{"cycle":14,"pres":600,"nitrate":36.5},{"cycle":14,"pres":700,"nitrate":37.2},{"cycle":14,"pres":800,"nitrate":37.6},{"cycle":14,"pres":900,"nitrate":37.7},{"cycle":14,"pres":1000,"nitrate":37.8},{"cycle":14,"pres":1100,"nitrate":37.7},{"cycle":14,"pres":1200,"nitrate":37.6},{"cycle":14,"pres":1300,"nitrate":37.6},{"cycle":14,"pres":1400,"nitrate":37.4},{"cycle":14,"pres":1500,"nitrate":37.3},{"cycle":14,"pres":1600,"nitrate":37.2},{"cycle":14,"pres":1700,"nitrate":37},{"cycle":14,"pres":1800,"nitrate":36.6},{"cycle":14,"pres":1900,"nitrate":36.4},{"cycle":14,"pres":2000,"nitrate":36.2}
]},
"mark":{"type":"square","size":1270,"opacity":1,"filled":true,"clip":false},
"encoding":{
"x":{"field":"cycle","type":"quantitative","scale":{"domain":[-2,16],"nice":false,"zero":false},"axis":{"title":"CYCLE NUMBER","values":[-2,0,2,4,6,8,10,12,14,16],"tickSize":-18,"labelPadding":42,"titlePadding":18,"labelExpr":"''+datum.value"}},
"y":{"field":"pres","type":"quantitative","scale":{"type":"log","domain":[1.84,2193],"reverse":true,"nice":false},"axis":{"title":"PRES (dbar)","values":[2,3,4,5,6,7,8,9,10,20,30,40,50,60,70,80,90,100,200,300,400,500,600,700,800,900,1000,2000],"tickSize":{"condition":{"test":"indexof([2,5,10,20,50,100,200,500,1000,2000],datum.value)>=0","value":-18},"value":-11},"labelExpr":"indexof([2,5,10,20,50,100,200,500,1000,2000],datum.value)>=0?datum.value:''","labelPadding":39,"titlePadding":14}},
"color":{"field":"nitrate","type":"quantitative","legend":null,"scale":{"domain":[-0.63,0,1,2,3,4,5,6,7,8,9,10,11,12,13,14,15,16,17,18,19,20,21,22,23,24,25,26,27,28,29,30,31,32,33,34,35,36,37,38,38.08],"range":["#2d0e38","#311a4e","#37246c","#4240a8","#4753c6","#4a66e2","#4a78f4","#4488fe","#3a9cfd","#2fb0f4","#26bfe8","#1eccd8","#18d7c6","#1ce0b6","#26eca4","#38f490","#52fa7a","#6cfe62","#84ff4e","#96ff42","#a8ff38","#b6f934","#c6f033","#d4e735","#e0dd38","#eecd3b","#f6be3a","#fcae36","#fe9a30","#fd8425","#f86e1b","#ef5912","#e54a0c","#da3f08","#ce3404","#c02900","#b01e00","#a01300","#900a00","#7d0300","#7a0200"]}}
}},
{"width":66,"height":823,
"view":{"stroke":"#262626","strokeWidth":2},
"data":{"values":[
{"level":-0.63,"next":-0.45},{"level":-0.5,"next":-0.2},{"level":-0.25,"next":0.05},{"level":0,"next":0.3},{"level":0.25,"next":0.55},{"level":0.5,"next":0.8},{"level":0.75,"next":1.05},{"level":1,"next":1.3},{"level":1.25,"next":1.55},{"level":1.5,"next":1.8},{"level":1.75,"next":2.05},{"level":2,"next":2.3},{"level":2.25,"next":2.55},{"level":2.5,"next":2.8},{"level":2.75,"next":3.05},{"level":3,"next":3.3},{"level":3.25,"next":3.55},{"level":3.5,"next":3.8},{"level":3.75,"next":4.05},{"level":4,"next":4.3},{"level":4.25,"next":4.55},{"level":4.5,"next":4.8},{"level":4.75,"next":5.05},{"level":5,"next":5.3},{"level":5.25,"next":5.55},{"level":5.5,"next":5.8},{"level":5.75,"next":6.05},{"level":6,"next":6.3},{"level":6.25,"next":6.55},{"level":6.5,"next":6.8},{"level":6.75,"next":7.05},{"level":7,"next":7.3},{"level":7.25,"next":7.55},{"level":7.5,"next":7.8},{"level":7.75,"next":8.05},{"level":8,"next":8.3},{"level":8.25,"next":8.55},{"level":8.5,"next":8.8},{"level":8.75,"next":9.05},{"level":9,"next":9.3},{"level":9.25,"next":9.55},{"level":9.5,"next":9.8},{"level":9.75,"next":10.05},{"level":10,"next":10.3},{"level":10.25,"next":10.55},{"level":10.5,"next":10.8},{"level":10.75,"next":11.05},{"level":11,"next":11.3},{"level":11.25,"next":11.55},{"level":11.5,"next":11.8},{"level":11.75,"next":12.05},{"level":12,"next":12.3},{"level":12.25,"next":12.55},{"level":12.5,"next":12.8},{"level":12.75,"next":13.05},{"level":13,"next":13.3},{"level":13.25,"next":13.55},{"level":13.5,"next":13.8},{"level":13.75,"next":14.05},{"level":14,"next":14.3},{"level":14.25,"next":14.55},{"level":14.5,"next":14.8},{"level":14.75,"next":15.05},{"level":15,"next":15.3},{"level":15.25,"next":15.55},{"level":15.5,"next":15.8},{"level":15.75,"next":16.05},{"level":16,"next":16.3},{"level":16.25,"next":16.55},{"level":16.5,"next":16.8},{"level":16.75,"next":17.05},{"level":17,"next":17.3},{"level":17.25,"next":17.55},{"level":17.5,"next":17.8},{"level":17.75,"next":18.05},{"level":18,"next":18.3},{"level":18.25,"next":18.55},{"level":18.5,"next":18.8},{"level":18.75,"next":19.05},{"level":19,"next":19.3},{"level":19.25,"next":19.55},{"level":19.5,"next":19.8},{"level":19.75,"next":20.05},{"level":20,"next":20.3},{"level":20.25,"next":20.55},{"level":20.5,"next":20.8},{"level":20.75,"next":21.05},{"level":21,"next":21.3},{"level":21.25,"next":21.55},{"level":21.5,"next":21.8},{"level":21.75,"next":22.05},{"level":22,"next":22.3},{"level":22.25,"next":22.55},{"level":22.5,"next":22.8},{"level":22.75,"next":23.05},{"level":23,"next":23.3},{"level":23.25,"next":23.55},{"level":23.5,"next":23.8},{"level":23.75,"next":24.05},{"level":24,"next":24.3},{"level":24.25,"next":24.55},{"level":24.5,"next":24.8},{"level":24.75,"next":25.05},{"level":25,"next":25.3},{"level":25.25,"next":25.55},{"level":25.5,"next":25.8},{"level":25.75,"next":26.05},{"level":26,"next":26.3},{"level":26.25,"next":26.55},{"level":26.5,"next":26.8},{"level":26.75,"next":27.05},{"level":27,"next":27.3},{"level":27.25,"next":27.55},{"level":27.5,"next":27.8},{"level":27.75,"next":28.05},{"level":28,"next":28.3},{"level":28.25,"next":28.55},{"level":28.5,"next":28.8},{"level":28.75,"next":29.05},{"level":29,"next":29.3},{"level":29.25,"next":29.55},{"level":29.5,"next":29.8},{"level":29.75,"next":30.05},{"level":30,"next":30.3},{"level":30.25,"next":30.55},{"level":30.5,"next":30.8},{"level":30.75,"next":31.05},{"level":31,"next":31.3},{"level":31.25,"next":31.55},{"level":31.5,"next":31.8},{"level":31.75,"next":32.05},{"level":32,"next":32.3},{"level":32.25,"next":32.55},{"level":32.5,"next":32.8},{"level":32.75,"next":33.05},{"level":33,"next":33.3},{"level":33.25,"next":33.55},{"level":33.5,"next":33.8},{"level":33.75,"next":34.05},{"level":34,"next":34.3},{"level":34.25,"next":34.55},{"level":34.5,"next":34.8},{"level":34.75,"next":35.05},{"level":35,"next":35.3},{"level":35.25,"next":35.55},{"level":35.5,"next":35.8},{"level":35.75,"next":36.05},{"level":36,"next":36.3},{"level":36.25,"next":36.55},{"level":36.5,"next":36.8},{"level":36.75,"next":37.05},{"level":37,"next":37.3},{"level":37.25,"next":37.55},{"level":37.5,"next":37.8},{"level":37.75,"next":38.05},{"level":38,"next":38.08}
]},
"mark":{"type":"rect"},
"encoding":{
"y":{"field":"level","type":"quantitative","scale":{"domain":[-0.63,38.08],"nice":false,"zero":false},"axis":{"title":null,"orient":"right","values":[0,5,10,15,20,25,30,35],"tickSize":-9,"labelPadding":27,"domain":false,"labelFontSize":34}},
"y2":{"field":"next"},
"color":{"field":"level","type":"quantitative","legend":null,"scale":{"domain":[-0.63,0,1,2,3,4,5,6,7,8,9,10,11,12,13,14,15,16,17,18,19,20,21,22,23,24,25,26,27,28,29,30,31,32,33,34,35,36,37,38,38.08],"range":["#2d0e38","#311a4e","#37246c","#4240a8","#4753c6","#4a66e2","#4a78f4","#4488fe","#3a9cfd","#2fb0f4","#26bfe8","#1eccd8","#18d7c6","#1ce0b6","#26eca4","#38f490","#52fa7a","#6cfe62","#84ff4e","#96ff42","#a8ff38","#b6f934","#c6f033","#d4e735","#e0dd38","#eecd3b","#f6be3a","#fcae36","#fe9a30","#fd8425","#f86e1b","#ef5912","#e54a0c","#da3f08","#ce3404","#c02900","#b01e00","#a01300","#900a00","#7d0300","#7a0200"]}}
}}
],
"resolve":{"scale":{"color":"independent","y":"independent","x":"independent"}}
}
